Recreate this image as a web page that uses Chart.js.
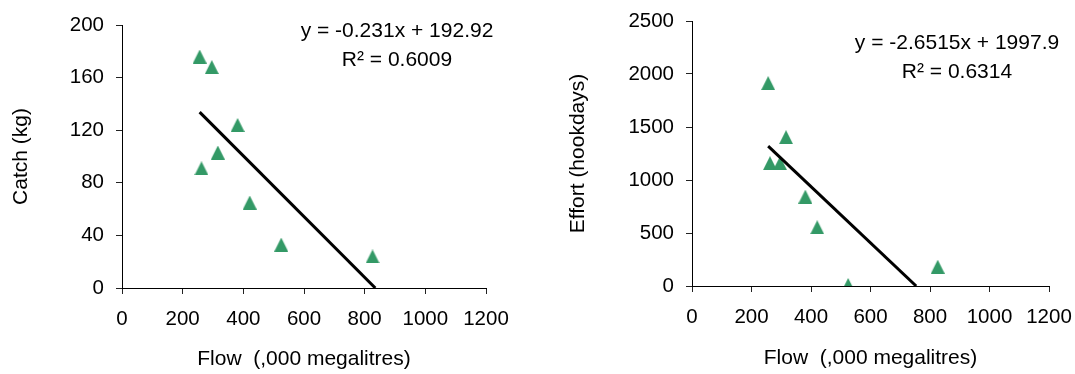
<!DOCTYPE html>
<html>
<head>
<meta charset="utf-8">
<script src="https://cdn.jsdelivr.net/npm/chart.js@4"></script>
<style>
  html, body { margin: 0; padding: 0; background: #fff; }
  #wrap { position: relative; width: 1075px; height: 374px; overflow: hidden; }
  .panel { position: absolute; top: 0; height: 374px; }
</style>
</head>
<body>
<div id="wrap">
  <div class="panel" style="left:0;width:540px"><canvas id="catchChart"></canvas></div>
  <div class="panel" style="left:540px;width:535px"><canvas id="effortChart"></canvas></div>
</div>
<script>
// --- data ---
const flow = [256, 262, 296, 316, 381, 421, 525, 826];          // ,000 megalitres
const catchKg = [176, 91, 168, 103, 124, 65, 33, 24];
const effortHookdays = [1914, 1159, 1159, 1404, 843, 554, 10, 182];

const flowTicks = [0, 200, 400, 600, 800, 1000, 1200];
const catchTicks = [0, 40, 80, 120, 160, 200];
const effortTicks = [0, 500, 1000, 1500, 2000, 2500];

// trend lines as printed on the chart
const catchSlope = -0.231, catchIntercept = 192.92, catchR2 = 0.6009;
const effortSlope = -2.6515, effortIntercept = 1997.9, effortR2 = 0.6314;

const FONT = "'Liberation Sans', Arial, sans-serif";
const GREEN = '#339966';

// Excel-like triangle marker
function triangleMarker(w, h) {
    const c = document.createElement('canvas');
    c.width = w; c.height = h;
    const g = c.getContext('2d');
    g.fillStyle = GREEN;
    g.beginPath();
    g.moveTo(w / 2, 0);
    g.lineTo(w, h);
    g.lineTo(0, h);
    g.closePath();
    g.fill();
    return c;
}
const marker = triangleMarker(14, 14);

// draws the equation + R² text block
const equationLabel = {
    id: 'equationLabel',
    afterDraw(chart, args, opts) {
        const ctx = chart.ctx;
        ctx.save();
        ctx.font = '21px ' + FONT;
        ctx.fillStyle = '#000';
        ctx.textAlign = 'center';
        ctx.textBaseline = 'alphabetic';
        opts.lines.forEach((t, i) => ctx.fillText(t, opts.x, opts.y + i * opts.gap));
        ctx.restore();
    }
};

// trend line from the lowest flow down to where it meets the x axis
function trendPoints(slope, intercept) {
    const x0 = Math.min(...flow);
    const x1 = -intercept / slope;
    return [{ x: x0, y: slope * x0 + intercept }, { x: x1, y: 0 }];
}

function noPad(s) {
    s.paddingLeft = 0; s.paddingRight = 0; s.paddingTop = 0; s.paddingBottom = 0;
}

function makeChart(id, yValues, yTicks, yTitle, slope, intercept, r2, g) {
    const pts = flow.map((x, i) => ({ x: x, y: yValues[i] }));
    new Chart(document.getElementById(id).getContext('2d'), {
        type: 'scatter',
        data: {
            datasets: [
                {
                    type: 'line',
                    data: trendPoints(slope, intercept),
                    borderColor: '#000',
                    borderWidth: 3,
                    pointRadius: 0,
                    fill: false
                },
                {
                    data: pts,
                    pointStyle: marker,
                    pointRadius: 7,
                    backgroundColor: GREEN,
                    borderColor: GREEN
                }
            ]
        },
        options: {
            responsive: true,
            maintainAspectRatio: false,
            animation: false,
            layout: { padding: { top: g.top, right: g.right, left: 0, bottom: 0 } },
            plugins: {
                legend: { display: false },
                tooltip: { enabled: false },
                equationLabel: {
                    lines: ['y = ' + slope + 'x + ' + intercept, 'R\u00B2 = ' + r2],
                    x: g.eqX, y: g.eqY, gap: 28.5
                }
            },
            scales: {
                x: {
                    type: 'linear',
                    min: 0, max: 1200,
                    afterBuildTicks: s => { s.ticks = flowTicks.map(v => ({ value: v })); },
                    afterFit: s => { s.height = g.xH; noPad(s); },
                    grid: { drawOnChartArea: false, tickLength: 6, color: '#222' },
                    border: { color: '#000', width: 1 },
                    ticks: { color: '#000', font: { family: FONT, size: 20.5 }, padding: 13,
                             maxRotation: 0, autoSkip: false, callback: v => String(v) },
                    title: { display: true, text: 'Flow  (,000 megalitres)', color: '#000',
                             font: { family: FONT, size: 21 }, padding: { top: 0, bottom: g.xTitlePad } }
                },
                y: {
                    type: 'linear',
                    min: yTicks[0], max: yTicks[yTicks.length - 1],
                    afterBuildTicks: s => { s.ticks = yTicks.map(v => ({ value: v })); },
                    afterFit: s => { s.width = g.yW; noPad(s); },
                    grid: { drawOnChartArea: false, tickLength: 6, color: '#222' },
                    border: { color: '#000', width: 1 },
                    ticks: { color: '#000', font: { family: FONT, size: 20.5 }, padding: 12,
                             callback: v => String(v) },
                    title: { display: true, text: yTitle, color: '#000',
                             font: { family: FONT, size: 21 }, padding: { top: g.yTitlePad, bottom: 0 } }
                }
            }
        },
        plugins: [equationLabel]
    });
}

makeChart('catchChart', catchKg, catchTicks, 'Catch (kg)', catchSlope, catchIntercept, catchR2,
    { top: 25, right: 54, yW: 122, xH: 86, yTitlePad: 9, xTitlePad: 2, eqX: 397, eqY: 37 });
makeChart('effortChart', effortHookdays, effortTicks, 'Effort (hookdays)', effortSlope, effortIntercept, effortR2,
    { top: 21, right: 26, yW: 152, xH: 88, yTitlePad: 26, xTitlePad: 3, eqX: 417, eqY: 49 });
</script>
</body>
</html>
